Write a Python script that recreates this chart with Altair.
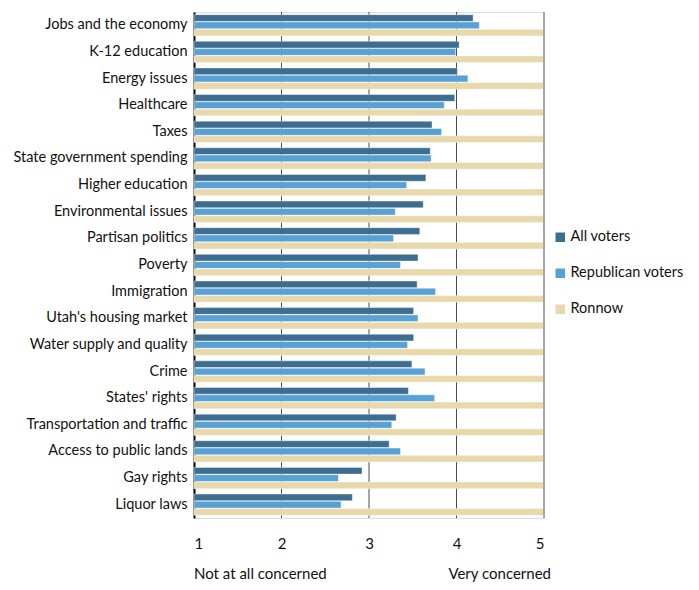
import altair as alt
import pandas as pd

categories = [
    "Jobs and the economy", "K-12 education", "Energy issues", "Healthcare", "Taxes",
    "State government spending", "Higher education", "Environmental issues",
    "Partisan politics", "Poverty", "Immigration", "Utah's housing market",
    "Water supply and quality", "Crime", "States' rights",
    "Transportation and traffic", "Access to public lands", "Gay rights", "Liquor laws",
]
all_voters = [4.19, 4.03, 4.01, 3.98, 3.72, 3.70, 3.65, 3.62, 3.58, 3.56,
              3.55, 3.51, 3.51, 3.49, 3.45, 3.31, 3.23, 2.92, 2.81]
republican_voters = [4.26, 3.99, 4.13, 3.86, 3.83, 3.71, 3.43, 3.30, 3.28, 3.36,
                     3.76, 3.56, 3.44, 3.64, 3.75, 3.26, 3.36, 2.65, 2.68]
ronnow = [5.0] * 19
series = ["All voters", "Republican voters", "Ronnow"]
colors = ["#3D6E90", "#58A1D5", "#E8D9AD"]
x_ticks = [1, 2, 3, 4, 5]
end_labels = ["Not at all concerned", "Very concerned"]
end_values = [1, 5]

rows = []
for i, c in enumerate(categories):
    for s, vals in zip(series, [all_voters, republican_voters, ronnow]):
        rows.append({"category": c, "series": s, "value": vals[i], "base": 1})
df = pd.DataFrame(rows)

FONT = "Lato"
W, H = 350, 506

x_scale = alt.Scale(domain=[1, 5], nice=False, zero=False)

grid_df = pd.DataFrame({"v": [2, 3, 4]})
grid = alt.Chart(grid_df).mark_rule(color="#4a4a4a", strokeWidth=1).encode(
    x=alt.X("v:Q", scale=x_scale)
)
edge = alt.Chart(pd.DataFrame({"v": [5]})).mark_rule(color="#a6a6a6", strokeWidth=2).encode(
    x=alt.X("v:Q", scale=x_scale)
)

bars = alt.Chart(df).mark_bar(stroke="white", strokeWidth=0.4).encode(
    y=alt.Y("category:N", sort=categories,
            scale=alt.Scale(paddingInner=0.2, paddingOuter=0.1),
            axis=alt.Axis(title=None, ticks=False, domain=True, domainColor="black",
                          domainWidth=2, labelFont=FONT, labelFontSize=14.5,
                          labelColor="#111", labelPadding=7, labelLimit=300)),
    yOffset=alt.YOffset("series:N", sort=series,
                        scale=alt.Scale(paddingInner=0.08)),
    x=alt.X("value:Q", scale=x_scale, stack=None,
            axis=alt.Axis(values=x_ticks, title=None, grid=False, ticks=False, domain=False,
                          labelFont=FONT, labelFontSize=15, labelColor="#111",
                          labelPadding=18, format="d")),
    x2=alt.X2("base:Q"),
    color=alt.Color("series:N", sort=series,
                    scale=alt.Scale(domain=series, range=colors),
                    legend=alt.Legend(title=None, orient="none", legendX=359, legendY=218,
                                      symbolType="square", symbolSize=90, symbolStrokeWidth=0,
                                      labelFont=FONT, labelFontSize=14.5, labelColor="#111",
                                      rowPadding=21, labelOffset=3)),
)

ends_df = pd.DataFrame({"label": end_labels, "v": end_values})
left_txt = alt.Chart(ends_df[ends_df.v == 1]).mark_text(
    align="left", baseline="middle", font=FONT, fontSize=15, color="#111"
).encode(x=alt.X("v:Q", scale=x_scale), y=alt.value(H + 56), text="label:N")
right_txt = alt.Chart(ends_df[ends_df.v == 5]).mark_text(
    align="right", baseline="middle", font=FONT, fontSize=15, color="#111", dx=7
).encode(x=alt.X("v:Q", scale=x_scale), y=alt.value(H + 56), text="label:N")

chart = alt.layer(grid, bars, edge, left_txt, right_txt).properties(
    width=W, height=H
).configure_view(stroke=None).configure(background="white", padding={"left": 5, "top": 3, "right": 5, "bottom": 5})

chart.save("out.html", embed_options={"renderer": "svg", "actions": False})
